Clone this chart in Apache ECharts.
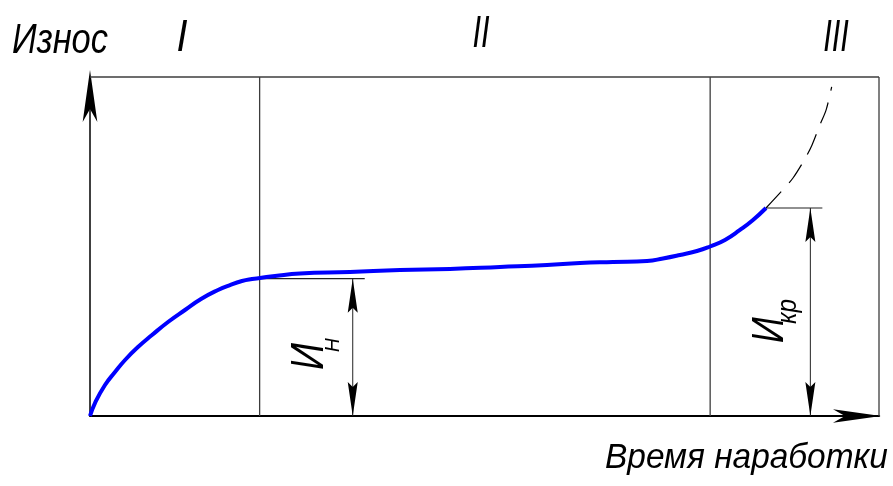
<!DOCTYPE html>
<html>
<head>
<meta charset="utf-8">
<script src="https://cdn.jsdelivr.net/npm/echarts@6/dist/echarts.min.js"></script>
<style>
  html, body { margin: 0; padding: 0; background: #fff; }
  #chart { width: 893px; height: 486px; }
</style>
</head>
<body>
<div id="chart"></div>
<script>
// Typical wear curve: operating time vs wear, both in relative units (0..100)
const timeMax = 100;
const wearMax = 100;

// Measured part of the curve (run-in, normal wear, start of accelerated wear)
const wearTime  = [0, 0.63, 1.90, 3.17, 4.44, 6.08, 7.86, 9.89, 12.04, 14.07, 16.22, 17.74, 19.26, 20.53, 21.55,
                   23.45, 26.62, 32.95, 39.29, 45.63, 51.96, 57.92, 62.10, 66.29, 70.60, 72.62, 74.78, 76.93,
                   78.58, 80.48, 82.38, 84.03, 85.68];
const wearValue = [0, 3.83, 9.14, 12.98, 16.52, 20.35, 23.89, 27.73, 31.27, 34.51, 37.17, 38.64, 39.82, 40.41, 40.71,
                   41.30, 42.04, 42.48, 43.07, 43.36, 43.95, 44.54, 45.13, 45.43, 45.72, 46.46, 47.49, 48.67,
                   50.00, 51.92, 54.87, 57.82, 61.36];

// Extrapolated catastrophic wear (dashed)
const failTime  = [85.68, 87.8, 89.1, 90.6, 91.5, 92.5, 93.3, 94.0];
const failValue = [61.36, 66.7, 70.2, 75.8, 79.9, 85.8, 90.3, 97.1];

// Boundaries between periods I | II | III
const periodBounds = [21.5, 78.6];
const periodLabels = ['I', 'II', 'III'];

// Dimensioned wear levels: initial (И_Н) and critical (И_кр)
const dimTime   = [33.3, 91.3];
const dimWear   = [40.5, 61.36];
const dimFrom   = [21.5, 85.68];
const dimLabels = [['И', 'Н'], ['И', 'кр']];

const axisTitleY = 'Износ';
const axisTitleX = 'Время наработки';

const frameLines = [
  [periodBounds[0], 0, periodBounds[0], wearMax],
  [periodBounds[1], 0, periodBounds[1], wearMax],
  [timeMax, 0, timeMax, wearMax],
  [0, wearMax, timeMax, wearMax]
];
const dimData = dimTime.map((t, i) => [t, dimWear[i], dimFrom[i]]);

const FONT = '"Liberation Sans", Arial, sans-serif';

const chart = echarts.init(document.getElementById('chart'), null, { renderer: 'canvas' });

function arrowHead(x, y, dir) {
  // dir = -1: pointing up, 1: pointing down
  const len = 34, half = 5, notch = 29;
  return {
    type: 'polygon',
    shape: { points: [[x, y], [x - half, y - dir * len], [x, y - dir * notch], [x + half, y - dir * len]] },
    style: { fill: '#000' }
  };
}

chart.setOption({
  animation: false,
  backgroundColor: '#fff',
  grid: { left: 90, right: 14, top: 77, bottom: 70 },
  xAxis: {
    type: 'value', min: 0, max: timeMax,
    axisLine: { show: true, lineStyle: { color: '#000', width: 2 },
      symbol: ['none', 'arrow'], symbolSize: [10, 48], symbolOffset: [0, 2] },
    axisTick: { show: false }, axisLabel: { show: false }, splitLine: { show: false }
  },
  yAxis: {
    type: 'value', min: 0, max: wearMax,
    axisLine: { show: true, lineStyle: { color: '#000', width: 1.5 },
      symbol: ['none', 'arrow'], symbolSize: [11, 52], symbolOffset: [0, 7] },
    axisTick: { show: false }, axisLabel: { show: false }, splitLine: { show: false }
  },
  series: [
    {
      name: 'frame', type: 'custom', data: frameLines, clip: false, silent: true, z: 1,
      renderItem: (params, api) => {
        const p1 = api.coord([api.value(0), api.value(1)]);
        const p2 = api.coord([api.value(2), api.value(3)]);
        return { type: 'line', shape: { x1: p1[0], y1: p1[1], x2: p2[0], y2: p2[1] },
          style: { stroke: '#3c3c3c', lineWidth: 1.3 } };
      }
    },
    {
      name: 'dims', type: 'custom', data: dimData, clip: false, silent: true, z: 2,
      renderItem: (params, api) => {
        const base = api.coord([api.value(0), 0]);
        const top = api.coord([api.value(0), api.value(1)]);
        const from = api.coord([api.value(2), api.value(1)]);
        return {
          type: 'group',
          children: [
            { type: 'line', shape: { x1: from[0], y1: top[1], x2: top[0] + 12, y2: top[1] },
              style: { stroke: '#222', lineWidth: 1.2 } },
            { type: 'line', shape: { x1: base[0], y1: base[1], x2: top[0], y2: top[1] },
              style: { stroke: '#222', lineWidth: 1 } },
            arrowHead(top[0], top[1], -1),
            arrowHead(base[0], base[1], 1)
          ]
        };
      }
    },
    {
      name: 'failure', type: 'line', data: failTime.map((t, i) => [t, failValue[i]]),
      smooth: 0.3, showSymbol: false, silent: true, z: 3,
      lineStyle: { color: '#000', width: 1.2, type: [22, 12] }
    },
    {
      name: 'wear', type: 'line', data: wearTime.map((t, i) => [t, wearValue[i]]),
      smooth: 0.5, showSymbol: false, silent: true, z: 4,
      lineStyle: { color: '#0000ff', width: 4 }
    }
  ],
  graphic: [
    { type: 'text', x: 12, y: 41, scaleX: 0.82,
      style: { text: axisTitleY, font: 'italic 42px ' + FONT, fill: '#000', align: 'left', verticalAlign: 'middle' } },
    { type: 'text', x: 182, y: 39, scaleX: 0.9,
      style: { text: periodLabels[0], font: 'italic 44px ' + FONT, fill: '#000', align: 'center', verticalAlign: 'middle' } },
    { type: 'text', x: 481, y: 35, scaleX: 0.7,
      style: { text: periodLabels[1], font: 'italic 44px ' + FONT, fill: '#000', align: 'center', verticalAlign: 'middle' } },
    { type: 'text', x: 836, y: 39, scaleX: 0.7,
      style: { text: periodLabels[2], font: 'italic 44px ' + FONT, fill: '#000', align: 'center', verticalAlign: 'middle' } },
    { type: 'text', x: 605, y: 458, scaleX: 0.955,
      style: { text: axisTitleX, font: 'italic 35px ' + FONT, fill: '#000', align: 'left', verticalAlign: 'middle' } },
    // И_Н, reading upward
    { type: 'text', x: 310, y: 370, rotation: Math.PI / 2, scaleX: 0.8,
      style: { text: dimLabels[0][0], font: 'italic 47px ' + FONT, fill: '#000', align: 'left', verticalAlign: 'middle' } },
    { type: 'text', x: 333, y: 352, rotation: Math.PI / 2, scaleX: 0.9,
      style: { text: dimLabels[0][1], font: 'italic 21px ' + FONT, fill: '#000', align: 'left', verticalAlign: 'middle' } },
    // И_кр, reading upward
    { type: 'text', x: 770, y: 343, rotation: Math.PI / 2, scaleX: 0.8,
      style: { text: dimLabels[1][0], font: 'italic 45px ' + FONT, fill: '#000', align: 'left', verticalAlign: 'middle' } },
    { type: 'text', x: 788, y: 324, rotation: Math.PI / 2, scaleX: 0.9,
      style: { text: dimLabels[1][1], font: 'italic 27px ' + FONT, fill: '#000', align: 'left', verticalAlign: 'middle' } }
  ]
});
</script>
</body>
</html>
